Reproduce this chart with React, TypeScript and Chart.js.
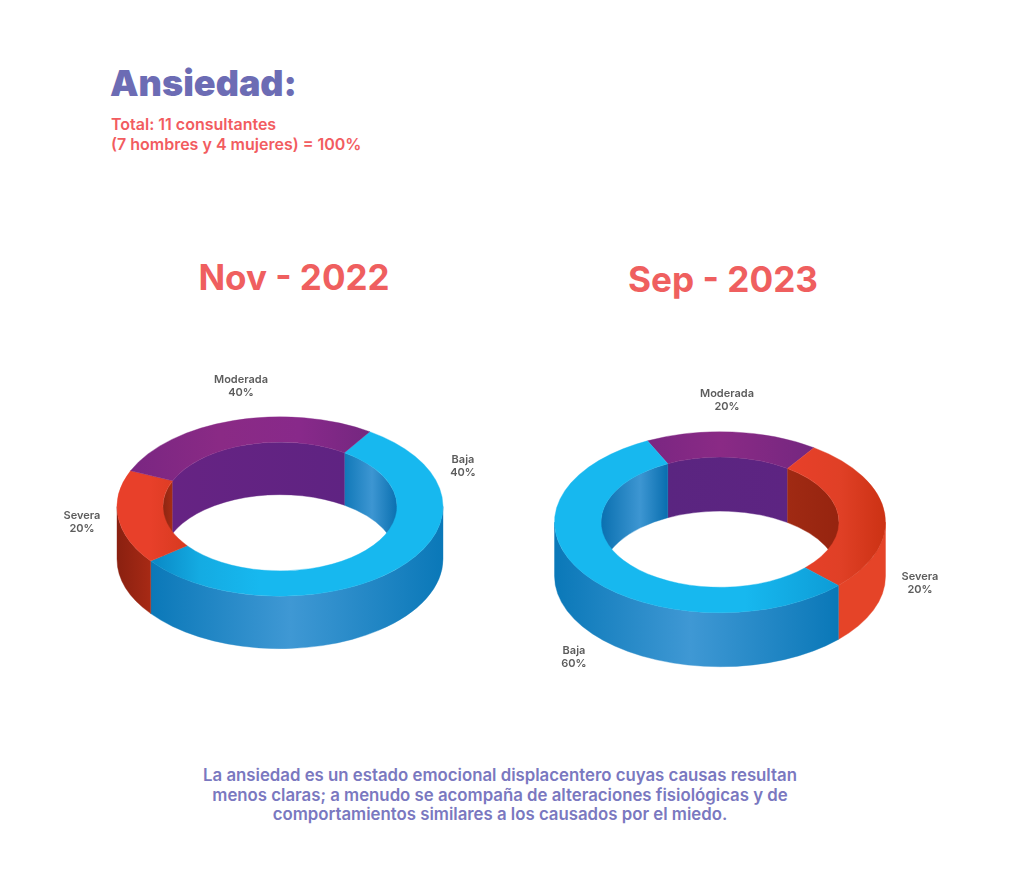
import React, { useEffect, useRef } from "react";
import { Chart, registerables } from "chart.js";

Chart.register(...registerables);

// Reference labels say 40/40/20 and 60/20/20, but its slices are not drawn in
// that proportion. `sweep` arrays hold the shares;
// `printed` arrays hold the percentages printed beside them.
const categories2022 = ["Baja", "Severa", "Moderada"];
const sweep2022 = [55.3, 16.95, 27.75];
const printed2022 = [40, 20, 40];
const rotation2022 = 33.4;

const categories2023 = ["Moderada", "Severa", "Baja"];
const sweep2023 = [16.83, 27.7, 55.47];
const printed2023 = [20, 20, 60];
const rotation2023 = 334;

type Stops = [number, string][]; // [page x, colour]
type Look = { top: Stops; outer: Stops; inner: Stops };

const BLUE = "#17b8ef";
const looks2022: Look[] = [
  {
    top: [[157, "#0b8cc8"], [200, "#14abe2"], [260, BLUE], [443, BLUE]],
    outer: [[150, "#0a78b8"], [290, "#3f98d4"], [443, "#0a78b8"]],
    inner: [[344, "#1078b8"], [372, "#3d96d2"], [397, "#0a70b0"]],
  },
  {
    top: [[117, "#e8402a"], [150, "#e8402a"], [186, "#d83a20"]],
    outer: [[117, "#8a2010"], [152, "#a82a15"]],
    inner: [[163, "#8e2612"], [172, "#a52c14"]],
  },
  {
    top: [[131, "#7a2682"], [220, "#8a2a85"], [300, "#88298a"], [368, "#752780"]],
    outer: [[131, "#612383"], [368, "#612383"]],
    inner: [[172, "#662383"], [344, "#5f2382"]],
  },
];
const looks2023: Look[] = [
  {
    top: [[647, "#7a2682"], [720, "#8a2a85"], [812, "#752780"]],
    outer: [[647, "#612383"], [812, "#612383"]],
    inner: [[667, "#5a2580"], [787, "#5d2482"]],
  },
  {
    top: [[787, "#e8402a"], [840, "#e04026"], [885, "#cc3214"]],
    outer: [[838, "#e54428"], [885, "#e54428"]],
    inner: [[787, "#a02a13"], [839, "#96240f"]],
  },
  {
    top: [[554, BLUE], [745, BLUE], [838, "#0d9cd6"]],
    outer: [[554, "#0a78b8"], [690, "#3f98d4"], [838, "#0a78b8"]],
    inner: [[601, "#0a70b0"], [640, "#3d96d2"], [667, "#0a6fb0"]],
  },
];

const CANVAS_W = 480;
const CANVAS_H = 340;

type Spec = {
  left: number;
  top: number;
  centerY: number; // page y of the ring's centre
  radius: number;
  cutout: string;
  squash: number;
  depth: number;
  categories: string[];
  sweep: number[];
  printed: number[];
  rotation: number;
  looks: Look[];
  labelAt: [number, number][]; // page x centre, page y of the first line
};

const gradientOf = (ctx: CanvasRenderingContext2D, stops: Stops, left: number) => {
  const x0 = stops[0][0] - left;
  const x1 = stops[stops.length - 1][0] - left;
  const g = ctx.createLinearGradient(x0, 0, x1, 0);
  stops.forEach(([x, c]) => g.addColorStop((x - left - x0) / (x1 - x0), c));
  return g;
};

const ringPlugin = (spec: Spec) => ({
  id: "ring3d",
  beforeDatasetsDraw(chart: any) {
    const ctx: CanvasRenderingContext2D = chart.ctx;
    const arcs = chart.getDatasetMeta(0).data;
    const cx = arcs[0].x;
    const cy = arcs[0].y;
    ctx.save();
    ctx.translate(cx, spec.centerY - spec.top);
    ctx.scale(1, spec.squash);
    ctx.translate(-cx, -cy);
    const drop = spec.depth / spec.squash;
    const wall = (r: number, a0: number, a1: number, fill: CanvasGradient) => {
      ctx.beginPath();
      ctx.arc(cx, cy, r, a0, a1);
      ctx.arc(cx, cy + drop, r, a1, a0, true);
      ctx.closePath();
      ctx.fillStyle = fill;
      ctx.strokeStyle = fill;
      ctx.lineWidth = 0.5;
      ctx.fill();
      ctx.stroke();
    };
    const TAU = Math.PI * 2;
    arcs.forEach((arc: any, i: number) => {
      const look = spec.looks[i];
      for (let k = -1; k <= 2; k++) {
        const fLo = Math.max(arc.startAngle, k * TAU);
        const fHi = Math.min(arc.endAngle, k * TAU + Math.PI);
        if (fHi > fLo) wall(arc.outerRadius, fLo, fHi, gradientOf(ctx, look.outer, spec.left));
        const bLo = Math.max(arc.startAngle, k * TAU + Math.PI);
        const bHi = Math.min(arc.endAngle, (k + 1) * TAU);
        if (bHi > bLo) wall(arc.innerRadius, bLo, bHi, gradientOf(ctx, look.inner, spec.left));
      }
    });
  },
  afterDatasetsDraw(chart: any) {
    chart.ctx.restore();
  },
  afterDraw(chart: any) {
    const ctx: CanvasRenderingContext2D = chart.ctx;
    ctx.save();
    ctx.fillStyle = "#5c5c5c";
    ctx.font = "600 11px Inter";
    ctx.textAlign = "center";
    ctx.textBaseline = "middle";
    spec.categories.forEach((name, i) => {
      const [x, y] = spec.labelAt[i];
      ctx.fillText(name, x - spec.left, y + 1 - spec.top);
      ctx.fillText(`${spec.printed[i]}%`, x - spec.left, y + 14 - spec.top);
    });
    ctx.restore();
  },
});

const Ring = ({ spec }: { spec: Spec }) => {
  const ref = useRef<HTMLCanvasElement>(null);
  useEffect(() => {
    const ctx = ref.current!.getContext("2d")!;
    const fills = spec.looks.map((l) => gradientOf(ctx, l.top, spec.left));
    const chart = new Chart(ctx, {
      type: "doughnut",
      data: {
        labels: spec.categories,
        datasets: [
          {
            data: spec.sweep,
            backgroundColor: fills,
            borderColor: fills,
            borderWidth: 0.5,
            hoverOffset: 0,
          },
        ],
      },
      options: {
        responsive: false,
        animation: false,
        devicePixelRatio: 1,
        radius: spec.radius,
        cutout: spec.cutout,
        rotation: spec.rotation,
        layout: { padding: 0 },
        events: [],
        plugins: { legend: { display: false }, title: { display: false }, tooltip: { enabled: false } },
      } as any,
      plugins: [ringPlugin(spec)],
    });
    return () => chart.destroy();
  }, [spec]);
  return (
    <canvas
      ref={ref}
      width={CANVAS_W}
      height={CANVAS_H}
      style={{ position: "absolute", left: spec.left, top: spec.top, width: CANVAS_W, height: CANVAS_H }}
    />
  );
};

const spec2022: Spec = {
  left: 40, top: 330, centerY: 506.5, radius: 163, cutout: "71.8%", squash: 0.55, depth: 52.5,
  categories: categories2022, sweep: sweep2022, printed: printed2022, rotation: rotation2022,
  looks: looks2022, labelAt: [[463, 459], [82, 515], [241, 379]],
};
const spec2023: Spec = {
  left: 480, top: 345, centerY: 522.2, radius: 165.5, cutout: "71.9%", squash: 0.547, depth: 54,
  categories: categories2023, sweep: sweep2023, printed: printed2023, rotation: rotation2023,
  looks: looks2023, labelAt: [[727, 393], [920, 576], [574, 650]],
};

const FONT = "Inter, sans-serif";
const abs = (s: React.CSSProperties): React.CSSProperties => ({
  position: "absolute", fontFamily: FONT, whiteSpace: "nowrap", margin: 0, ...s,
});

export default function App() {
  return (
    <div style={{ position: "absolute", left: 0, top: 0, width: 1024, height: 895, background: "#fff", overflow: "hidden" }}>
      <div style={abs({ left: 110, top: 60, fontSize: 36, fontWeight: 900, color: "#6c6cb4", lineHeight: "46px" })}>Ansiedad:</div>
      <div style={abs({ left: 111, top: 115, fontSize: 16, fontWeight: 600, color: "#f25c5f", lineHeight: "19.5px" })}>
        Total: 11 consultantes
        <br />
        (7 hombres y 4 mujeres) = 100%
      </div>
      <div style={abs({ left: 94, width: 400, textAlign: "center", top: 254, fontSize: 35, fontWeight: 700, color: "#ef5f5f", lineHeight: "46px" })}>Nov - 2022</div>
      <div style={abs({ left: 523, width: 400, textAlign: "center", top: 256, fontSize: 35.2, fontWeight: 700, color: "#ef5f5f", lineHeight: "46px" })}>Sep - 2023</div>
      <Ring spec={spec2022} />
      <Ring spec={spec2023} />
      <div style={abs({ left: 100, width: 800, textAlign: "center", top: 766, fontSize: 16.8, fontWeight: 600, color: "#7a78c0", lineHeight: "19.7px" })}>
        La ansiedad es un estado emocional displacentero cuyas causas resultan
        <br />
        menos claras; a menudo se acompaña de alteraciones fisiológicas y de
        <br />
        comportamientos similares a los causados por el miedo.
      </div>
    </div>
  );
}
